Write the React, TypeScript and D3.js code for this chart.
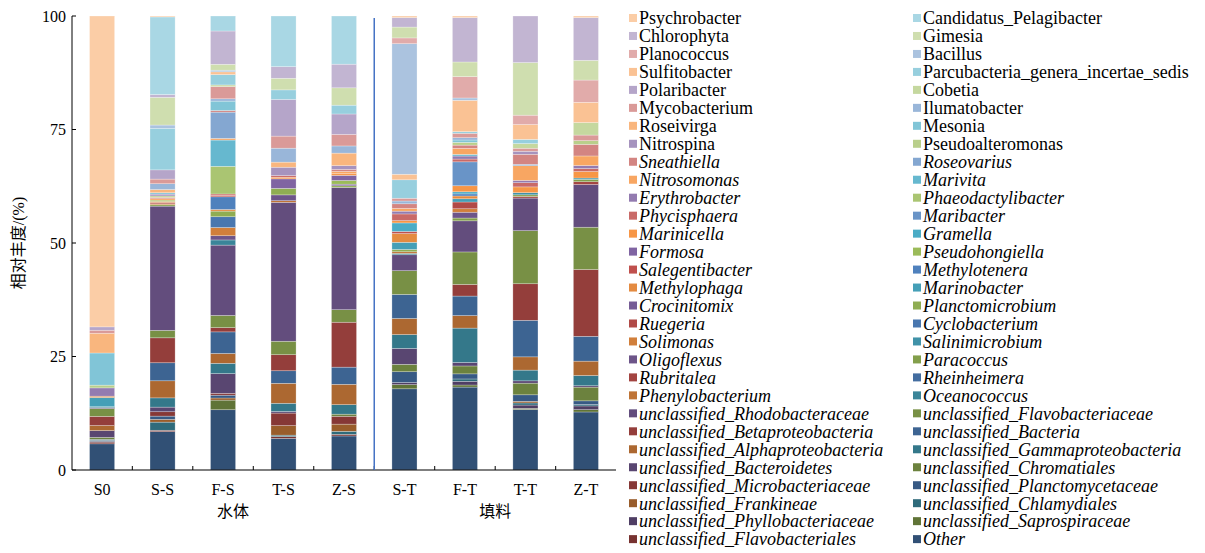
import React from 'react';
import * as d3 from 'd3';

// samples (x categories) and the two groups they belong to
const samples = ['S0', 'S-S', 'F-S', 'T-S', 'Z-S', 'S-T', 'F-T', 'T-T', 'Z-T'];
const groupLabels = ['水体', '填料'];
const groupMembers = [['S0', 'S-S', 'F-S', 'T-S', 'Z-S'], ['S-T', 'F-T', 'T-T', 'Z-T']];
const yTicks = [0, 25, 50, 75, 100];

// taxa, in stacking order (bottom -> top)
const taxa = [
  'Other', 'unclassified_Flavobacteriales', 'unclassified_Saprospiraceae', 'unclassified_Phyllobacteriaceae',
  'unclassified_Chlamydiales', 'unclassified_Frankineae', 'unclassified_Planctomycetaceae', 'unclassified_Microbacteriaceae',
  'unclassified_Chromatiales', 'unclassified_Bacteroidetes', 'unclassified_Gammaproteobacteria', 'unclassified_Alphaproteobacteria',
  'unclassified_Bacteria', 'unclassified_Betaproteobacteria', 'unclassified_Flavobacteriaceae', 'unclassified_Rhodobacteraceae',
  'Oceanococcus', 'Phenylobacterium', 'Rheinheimera', 'Rubritalea', 'Paracoccus', 'Oligoflexus',
  'Salinimicrobium', 'Solimonas', 'Cyclobacterium', 'Ruegeria', 'Planctomicrobium', 'Crocinitomix',
  'Marinobacter', 'Methylophaga', 'Methylotenera', 'Salegentibacter', 'Pseudohongiella', 'Formosa',
  'Gramella', 'Marinicella', 'Maribacter', 'Phycisphaera', 'Phaeodactylibacter', 'Erythrobacter',
  'Marivita', 'Nitrosomonas', 'Roseovarius', 'Sneathiella', 'Pseudoalteromonas', 'Nitrospina',
  'Mesonia', 'Roseivirga', 'Ilumatobacter', 'Mycobacterium', 'Cobetia', 'Polaribacter',
  'Parcubacteria_genera_incertae_sedis', 'Sulfitobacter', 'Bacillus', 'Planococcus', 'Gimesia', 'Chlorophyta',
  'Candidatus_Pelagibacter', 'Psychrobacter',
];
// names written upright in the legend (the rest are italic)
const uprightTaxa = taxa.slice(44);

// relative abundance (%) per taxon, columns follow `samples`
const abundance: number[][] = [
  [5.7, 8.3, 12.85, 6.8, 7.35, 17.6, 17.85, 13.0, 12.5], // Other
  [0.37, 0.3, 0, 0.4, 0.35, 0, 0, 0, 0],
  [0, 0, 2.05, 0, 0, 0.9, 0.45, 0.25, 0.5],
  [0.2, 0, 0, 0, 0, 0.45, 0.8, 0.7, 0.8],
  [0.2, 1.76, 0, 0.3, 0.65, 0, 0.5, 0.45, 0.3],
  [0, 0.6, 0.45, 2.05, 1.55, 0, 0, 0.35, 0],
  [0.2, 0.7, 0.6, 0, 0, 2.35, 1.1, 1.4, 0.8],
  [0, 0.95, 0.4, 2.7, 1.7, 0, 0, 0, 0],
  [0.44, 0, 0, 0, 0.45, 1.6, 1.7, 2.5, 2.95],
  [1.47, 1.0, 4.2, 0.35, 0, 3.45, 0.75, 0.5, 0.3],
  [0, 2.0, 2.2, 1.76, 2.05, 3.0, 7.4, 2.3, 2.2],
  [1.1, 3.7, 2.1, 4.3, 4.4, 3.5, 2.7, 2.85, 3.1],
  [0, 3.9, 4.6, 2.7, 3.7, 5.2, 4.2, 7.85, 5.35],
  [2.0, 5.4, 0.9, 3.45, 9.7, 0, 2.5, 7.85, 14.4],
  [1.7, 1.6, 2.6, 2.9, 2.7, 5.15, 7.0, 11.4, 9.1],
  [0.2, 26.9, 15.0, 29.9, 26.4, 3.45, 6.7, 7.0, 9.2], // unclassified_Rhodobacteraceae
  [0.2, 0, 1.1, 0, 0, 0.3, 0, 0, 0],
  [0, 0, 0, 0.35, 0, 0.35, 0, 0, 0],
  [0, 0, 0, 0, 0, 0, 0, 0, 0],
  [0, 0, 0, 0, 0, 0, 0, 0.35, 0.6],
  [0, 0.3, 0, 0, 0, 0, 0.6, 0.35, 0.5],
  [0, 0, 0.9, 1.25, 0, 0, 1.25, 0, 0],
  [0, 0, 0, 0, 0, 0, 0, 0.45, 0.3],
  [0, 0.2, 1.75, 0, 0, 0, 0.75, 0, 0],
  [0, 0, 2.3, 0, 0, 0, 0, 0, 0],
  [0, 0.3, 0, 0, 0, 0, 1.45, 0, 0],
  [0, 0, 1.2, 1.4, 0.35, 0.5, 0, 0, 0],
  [0, 0, 0, 0, 0.35, 0, 0, 0, 0],
  [2.0, 0, 0, 0, 0, 1.55, 0.7, 0, 0], // Marinobacter
  [0.3, 0.2, 0.35, 0, 0, 1.9, 0.6, 0, 0],
  [0, 0, 2.7, 0, 0, 0, 0.45, 0, 0],
  [0, 0, 0.3, 0, 0, 0.45, 0, 0, 0],
  [0, 0.3, 0, 0, 0.8, 0, 0, 0, 0],
  [0, 0, 0, 2.05, 1.1, 0, 0, 0, 0],
  [0, 0, 0, 0, 0, 1.85, 0.45, 0, 0],
  [0, 0, 0, 0.35, 0.35, 0.5, 1.3, 1.25, 1.4],
  [0, 0, 0, 0, 0, 0, 5.15, 0, 0], // Maribacter
  [0, 0, 0.3, 0.35, 0, 1.45, 0.6, 0.9, 0.65],
  [0, 0, 5.9, 0, 0, 0, 0, 0, 0],
  [1.8, 0, 0, 0, 0, 0.6, 0.65, 0.5, 0.65],
  [0, 0, 5.6, 0, 0, 0, 0.35, 0, 0],
  [0, 0.3, 0.35, 0, 0.5, 0.6, 1.3, 3.15, 2.05],
  [0, 0, 5.6, 0, 0, 0, 0, 0.3, 0], // Roseovarius
  [0, 0.3, 0.35, 0, 0.45, 1.0, 0.7, 2.15, 2.5],
  [0.6, 0.3, 0, 0, 0, 0, 0.6, 0, 0.8],
  [0, 0.4, 0, 1.8, 0.8, 0, 0, 0.65, 0],
  [7.0, 0.3, 2.0, 0, 0, 0, 0.5, 0, 0],
  [4.3, 0.7, 0, 1.1, 2.7, 0, 0, 0, 0],
  [0, 1.25, 0.5, 3.0, 1.55, 0.6, 0.5, 0, 0],
  [0.66, 1.0, 2.6, 2.6, 2.5, 0.6, 0.95, 0.65, 1.2],
  [0, 0, 0.35, 0, 0, 0, 0, 1.0, 2.7],
  [0.73, 2.0, 0, 7.9, 4.4, 0, 0, 0, 0],
  [0, 9.0, 2.2, 2.05, 1.9, 4.0, 0.35, 0.9, 0],
  [0, 0, 0.6, 0, 0, 1.2, 6.75, 3.2, 4.35],
  [0, 0.7, 0.35, 0, 0, 28.3, 0.5, 0, 0], // Bacillus
  [0, 0, 0, 0, 0, 1.25, 4.6, 2.0, 4.8],
  [0, 6.0, 1.25, 2.5, 3.75, 2.35, 3.15, 11.3, 4.25],
  [0, 0.6, 7.1, 2.5, 5.1, 2.05, 9.55, 10.0, 9.2],
  [0, 16.8, 3.2, 10.9, 10.4, 0, 0, 0, 0],
  [67.7, 0.2, 0, 0, 0, 0.35, 0.35, 0, 0.35], // Psychrobacter
];

const baseColors = ['#4F81BD', '#C0504D', '#9BBB59', '#8064A2', '#4BACC6', '#F79646'];
const tints = [0.15, 0.3, 0.42, 0.52];

function taxonColor(i: number) {
  const c = d3.rgb(baseColors[i % 6]);
  const level = Math.floor(i / 6);
  if (level <= 5) {
    const f = 0.62 + level * 0.076;
    return d3.rgb(c.r * f, c.g * f, c.b * f).formatHex();
  }
  const t = tints[level - 6];
  return d3.rgb(c.r + (255 - c.r) * t, c.g + (255 - c.g) * t, c.b + (255 - c.b) * t).formatHex();
}

const W = 1205, H = 553;
const margin = { left: 72, right: 589, top: 16, bottom: 83 };
const font = "'Times New Roman', 'Liberation Serif', 'DejaVu Serif', 'Noto Sans CJK SC', serif";

export default function App() {
  const rows = samples.map((s, j) => {
    const r: any = { sample: s };
    taxa.forEach((t, i) => { r[t] = abundance[i][j]; });
    return r;
  });
  const series = d3.stack<any>().keys(taxa).offset(d3.stackOffsetExpand)(rows);

  const x = d3.scaleBand().domain(samples).range([margin.left, W - margin.right]).paddingInner(0.585).paddingOuter(0.29);
  const y = d3.scaleLinear().domain([0, 100]).range([H - margin.bottom, margin.top]);
  const step = x.step();
  const x0 = margin.left, x1 = W - margin.right;
  const yBase = y(0);
  const divX = (x('Z-S')! + x('S-T')! + x.bandwidth()) / 2;

  const legend = taxa.map((t, i) => ({ t, i })).reverse();

  return (
    <svg width={W} height={H} style={{ position: 'absolute', left: 0, top: 0, background: '#fff', fontFamily: font }}>
      {series.map((s, i) => (
        <g key={s.key} fill={taxonColor(i)}>
          {s.map((d, j) => {
            const h = y(d[0] * 100) - y(d[1] * 100);
            if (h <= 0) return null;
            return (
              <rect key={j} x={x(samples[j])} y={y(d[1] * 100)} width={x.bandwidth()} height={h}
                stroke="#ffffff" strokeOpacity={0.45} strokeWidth={0.6} />
            );
          })}
        </g>
      ))}

      {/* y axis */}
      <line x1={x0} x2={x0} y1={y(100)} y2={yBase} stroke="#000" strokeWidth={1} />
      {yTicks.map(v => (
        <g key={v} transform={`translate(0,${y(v)})`}>
          <line x1={x0} x2={x0 + 4} stroke="#000" />
          <text x={x0 - 6} dy="0.35em" textAnchor="end" fontSize={16}>{v}</text>
        </g>
      ))}
      <text transform={`translate(24,${(y(0) + y(100)) / 2}) rotate(-90)`} textAnchor="middle" fontSize={16}>相对丰度/(%)</text>

      {/* x axis */}
      <line x1={x0} x2={x1} y1={yBase} y2={yBase} stroke="#000" strokeWidth={1.2} />
      {samples.map((s, j) => (
        <g key={s}>
          {j > 0 && <line x1={x(s)! - (step - x.bandwidth()) / 2} x2={x(s)! - (step - x.bandwidth()) / 2} y1={yBase} y2={yBase - 4} stroke="#000" />}
          <text x={x(s)! + x.bandwidth() / 2} y={yBase + 25} textAnchor="middle" fontSize={16}>{s}</text>
        </g>
      ))}
      {groupLabels.map((g, k) => {
        const xs = groupMembers[k].map(s => x(s)! + x.bandwidth() / 2);
        return <text key={g} x={d3.mean(xs)! + (k === 0 ? 10 : 0)} y={yBase + 47} textAnchor="middle" fontSize={16}>{g}</text>;
      })}

      {/* divider between water and filler samples */}
      <line x1={divX} x2={divX} y1={y(100) + 2} y2={yBase} stroke="#4472C4" strokeWidth={1.5} />

      {/* legend */}
      {legend.map((d, k) => {
        const col = k % 2, row = Math.floor(k / 2);
        const lx = col === 0 ? 629 : 913;
        const ly = 18 + row * 17.97;
        return (
          <g key={d.t} transform={`translate(${lx},${ly})`}>
            <rect x={0} y={-4} width={8} height={8} fill={taxonColor(d.i)} />
            <text x={10} dy="0.35em" fontSize={18} fontStyle={uprightTaxa.includes(d.t) ? 'normal' : 'italic'}>{d.t}</text>
          </g>
        );
      })}
    </svg>
  );
}
